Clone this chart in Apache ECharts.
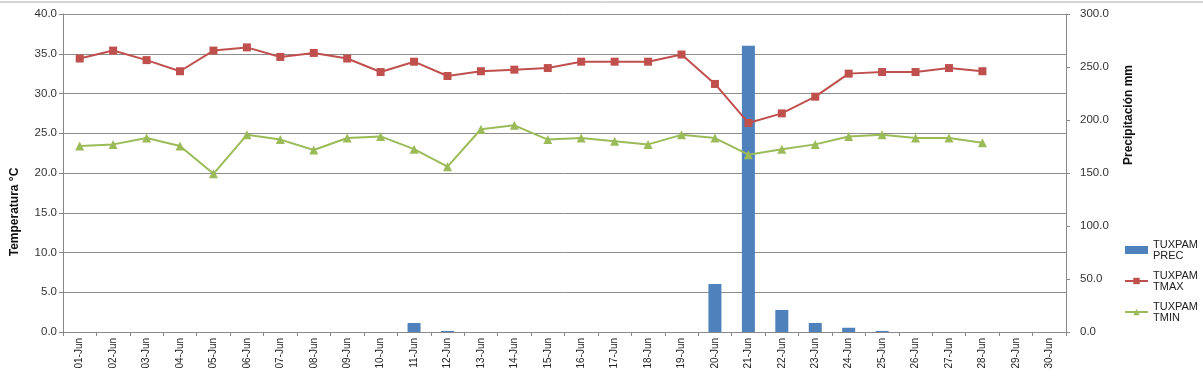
<!DOCTYPE html>
<html>
<head>
<meta charset="utf-8">
<script src="https://cdn.jsdelivr.net/npm/echarts@6/dist/echarts.min.js"></script>
<style>
html,body{margin:0;padding:0;background:#fff;}
#c{width:1203px;height:379px;}
</style>
</head>
<body>
<div id="c"></div>
<script>
const categories = ['01-Jun','02-Jun','03-Jun','04-Jun','05-Jun','06-Jun','07-Jun','08-Jun','09-Jun','10-Jun',
  '11-Jun','12-Jun','13-Jun','14-Jun','15-Jun','16-Jun','17-Jun','18-Jun','19-Jun','20-Jun',
  '21-Jun','22-Jun','23-Jun','24-Jun','25-Jun','26-Jun','27-Jun','28-Jun','29-Jun','30-Jun'];
const prec = [0,0,0,0,0,0,0,0,0,0,
  8.5,1,0,0,0,0,0,0,0,45.3,
  270,20.8,8.5,4,1,0,0,0,null,null];
const tmax = [34.4,35.4,34.2,32.8,35.4,35.8,34.6,35.1,34.4,32.7,
  34.0,32.2,32.8,33.0,33.2,34.0,34.0,34.0,34.9,31.2,
  26.3,27.5,29.6,32.5,32.7,32.7,33.2,32.8,null,null];
const tmin = [23.4,23.6,24.4,23.4,19.9,24.8,24.2,22.9,24.4,24.6,
  23.0,20.8,25.5,26.0,24.2,24.4,24.0,23.6,24.8,24.4,
  22.3,23.0,23.6,24.6,24.8,24.4,24.4,23.8,null,null];
const leftTicks = [0,5,10,15,20,25,30,35,40];
const rightTicks = [0,50,100,150,200,250,300];
const seriesNames = ['TUXPAM PREC','TUXPAM TMAX','TUXPAM TMIN'];

const FONT = '"Liberation Sans", Arial, sans-serif';
const chart = echarts.init(document.getElementById('c'));
chart.setOption({
  animation:false,
  textStyle:{fontFamily:FONT},
  grid:{left:63,right:137,top:14,bottom:47,containLabel:false},
  legend:{
    orient:'vertical', left:1119, top:234, itemGap:9, itemWidth:23, itemHeight:8,
    textStyle:{fontSize:11, color:'#222', lineHeight:11, fontFamily:FONT},
    formatter:function(n){return n.replace(' ','\n');},
    data:[
      {name:seriesNames[0], icon:'rect'},
      {name:seriesNames[1]},
      {name:seriesNames[2]}
    ]
  },
  xAxis:{
    type:'category', data:categories, boundaryGap:true,
    axisLine:{lineStyle:{color:'#888',width:1}},
    axisTick:{show:true,length:4,lineStyle:{color:'#888'}},
    axisLabel:{rotate:90,fontSize:10,color:'#222',margin:6,interval:0,fontFamily:FONT}
  },
  yAxis:[
    {type:'value',min:leftTicks[0],max:leftTicks[leftTicks.length-1],interval:5,
     axisLine:{show:true,lineStyle:{color:'#888'}},
     axisTick:{show:true,length:4,lineStyle:{color:'#888'}},
     axisLabel:{fontSize:11.5,color:'#333',margin:6,formatter:v=>v.toFixed(1),fontFamily:FONT},
     splitLine:{show:true,lineStyle:{color:'#8c8c8c',width:1}}
    },
    {type:'value',min:rightTicks[0],max:rightTicks[rightTicks.length-1],interval:50,position:'right',
     axisLine:{show:true,lineStyle:{color:'#888'}},
     axisTick:{show:true,length:4,lineStyle:{color:'#888'}},
     axisLabel:{fontSize:11.5,color:'#333',margin:14,formatter:v=>v.toFixed(1),fontFamily:FONT},
     splitLine:{show:false}
    }
  ],
  graphic:[
    {type:'line',shape:{x1:0,y1:2,x2:1203,y2:2},style:{stroke:'#aaa',lineWidth:1},silent:true},
    {type:'text',x:15,y:212,rotation:Math.PI/2,style:{text:'Temperatura °C',font:'bold 12px '+FONT,fill:'#111',align:'center',verticalAlign:'middle'}},
    {type:'text',x:1129,y:115,rotation:Math.PI/2,style:{text:'Precipitación mm',font:'bold 12px '+FONT,fill:'#111',align:'center',verticalAlign:'middle'}}
  ],
  series:[
    {name:seriesNames[0],type:'bar',yAxisIndex:1,data:prec,barWidth:13,
     itemStyle:{color:'#4F81BD'}},
    {name:seriesNames[1],type:'line',yAxisIndex:0,data:tmax,symbol:'rect',symbolSize:8,
     lineStyle:{color:'#C0504D',width:2},itemStyle:{color:'#C0504D'},z:3},
    {name:seriesNames[2],type:'line',yAxisIndex:0,data:tmin,symbol:'triangle',symbolSize:9,
     lineStyle:{color:'#9BBB59',width:2},itemStyle:{color:'#9BBB59'},z:3}
  ]
});
</script>
</body>
</html>
